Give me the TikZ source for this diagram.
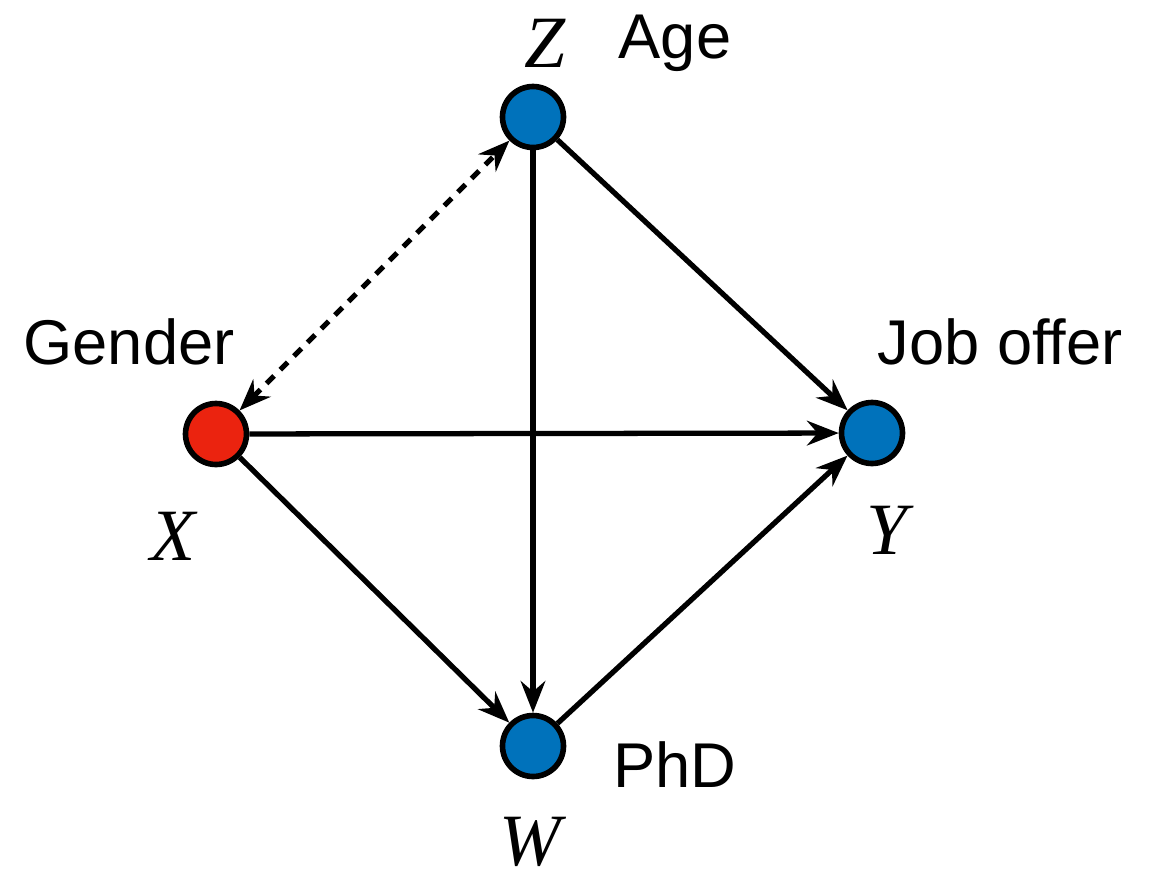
\documentclass[tikz,border=0pt]{standalone}
\usepackage{fontspec}
\setmainfont{Liberation Sans}
\newfontfamily\serifit{Liberation Serif}
\usetikzlibrary{arrows.meta}
\definecolor{nodeblue}{RGB}{0,114,187}
\definecolor{nodered}{RGB}{235,35,15}
\begin{document}
\begin{tikzpicture}[x=0.02cm,y=-0.02cm,
  vnode/.style={circle,draw=black,line width=3.2pt,minimum size=1.22cm,inner sep=0pt},
  conn/.style={line width=3pt,-{Stealth[length=18pt,width=14pt,inset=6pt]}},
  biconn/.style={line width=3pt,dash pattern=on 6pt off 5pt,{Stealth[length=18pt,width=14pt,inset=6pt]}-{Stealth[length=18pt,width=14pt,inset=6pt]}},
  lab/.style={inner sep=0pt,font=\fontsize{36}{42}\selectfont},
  var/.style={inner sep=0pt,font=\fontsize{42}{48}\selectfont\serifit\itshape}]
\useasboundingbox (0,0) rectangle (1157,883);
\node[vnode,fill=nodeblue] (Z) at (533,117) {};
\node[vnode,fill=nodered] (X) at (216,434) {};
\node[vnode,fill=nodeblue] (Y) at (872,433) {};
\node[vnode,fill=nodeblue] (W) at (533,746) {};
\draw[conn] (Z) -- (W);
\draw[conn] (Z) -- (Y);
\draw[conn] (X) -- (Y);
\draw[conn] (X) -- (W);
\draw[conn] (W) -- (Y);
\draw[biconn] (X) -- (Z);
\node[var] (zl) at (545,43) {Z};
\node[lab] (al) at (675,43) {Age};
\node[lab] (gl) at (129,342) {Gender};
\node[lab] (jl) at (1000,342) {Job offer};
\node[var] (xl) at (173,536) {X};
\node[var] (yl) at (887,530) {Y};
\node[lab] (pl) at (675,765) {PhD};
\node[var] (wl) at (530,842) {W};
\end{tikzpicture}
\end{document}
